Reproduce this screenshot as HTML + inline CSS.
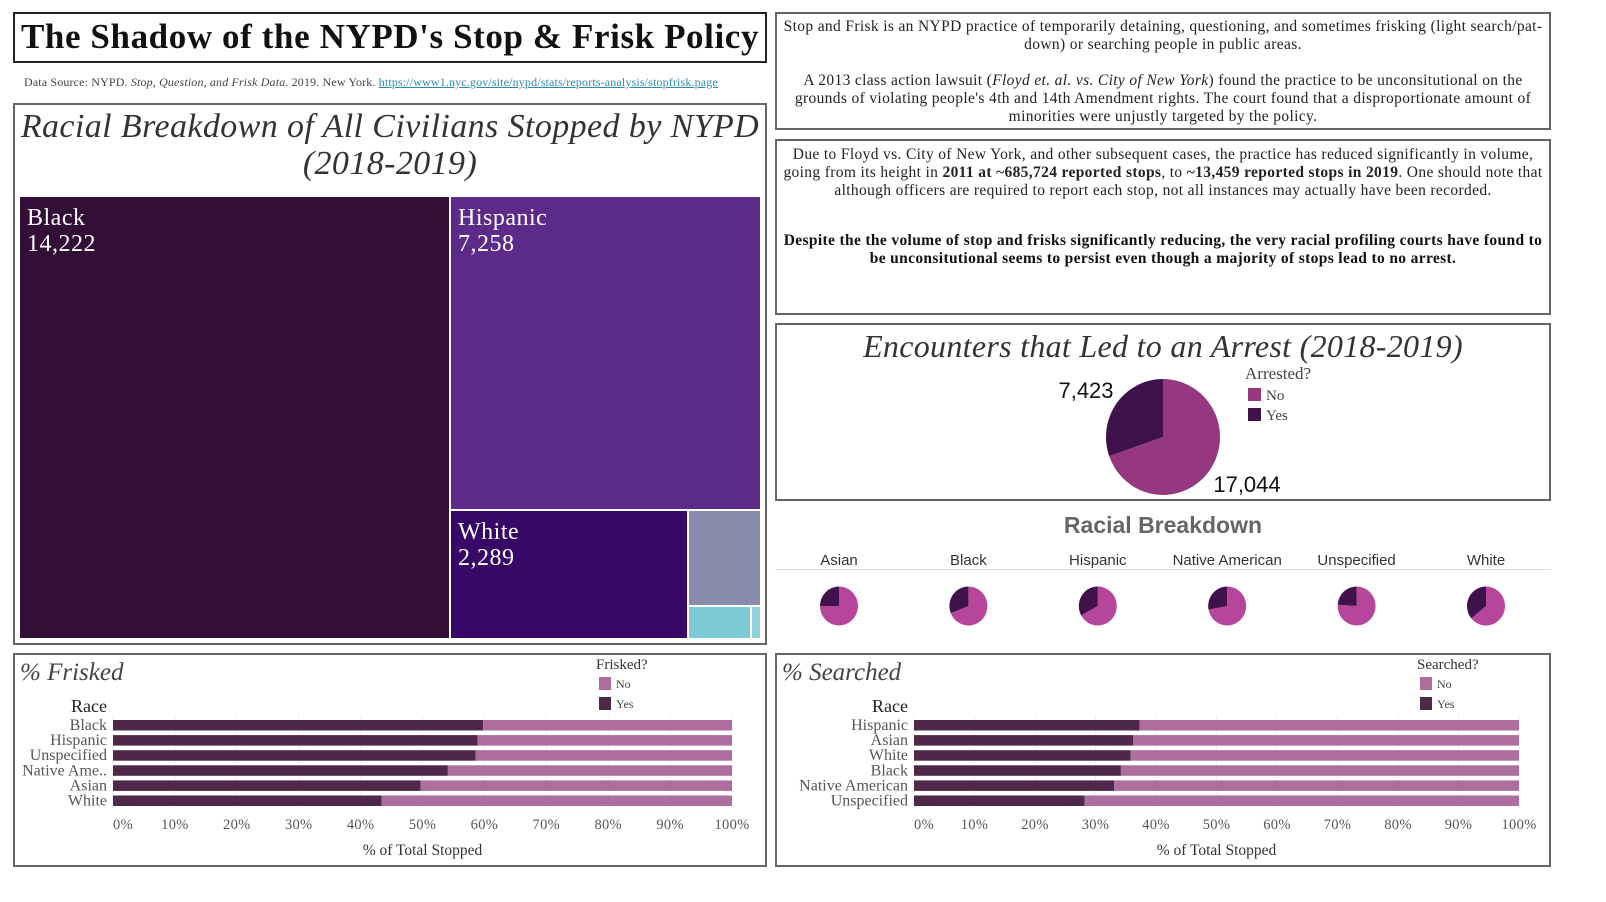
<!DOCTYPE html>
<html><head><meta charset="utf-8"><style>
body{margin:0;width:1606px;height:902px;background:#fff;position:relative;overflow:hidden;font-family:"Liberation Serif",serif;color:#333}
.box{position:absolute;border:2px solid #666;box-sizing:border-box}
.abs{position:absolute}
p{margin:0}
</style></head><body>
<div class="box" style="left:13px;top:12px;width:754px;height:51px;border-color:#222">
<div class="abs" style="left:0;width:750px;top:3px;text-align:center;font-size:35px;letter-spacing:0.6px;font-weight:bold;color:#111">The Shadow of the NYPD's Stop &amp; Frisk Policy</div></div>
<div class="abs" style="left:24px;top:75px;font-size:12px;letter-spacing:0.15px;color:#444">Data Source: NYPD. <i>Stop, Question, and Frisk Data</i>. 2019. New York. <span style="color:#2a8ab5;text-decoration:underline">https://www1.nyc.gov/site/nypd/stats/reports-analysis/stopfrisk.page</span></div>

<div class="box" style="left:775px;top:12px;width:776px;height:118px">
<div class="abs" style="left:6px;right:6px;top:4px;text-align:center;font-size:15.5px;letter-spacing:0.35px;line-height:18px;color:#222">
<p>Stop and Frisk is an NYPD practice of temporarily detaining, questioning, and sometimes frisking (light search/pat-down) or searching people in public areas.</p><p style="margin-top:18px">A 2013 class action lawsuit (<i>Floyd et. al. vs. City of New York</i>) found the practice to be unconsitutional on the grounds of violating people's 4th and 14th Amendment rights. The court found that a disproportionate amount of minorities were unjustly targeted by the policy.</p></div></div>

<div class="box" style="left:775px;top:139px;width:776px;height:176px">
<div class="abs" style="left:3px;right:3px;top:5px;text-align:center;font-size:15.5px;letter-spacing:0.35px;line-height:18px;color:#222">
<p>Due to Floyd vs. City of New York, and other subsequent cases, the practice has reduced significantly in volume, going from its height in <b>2011 at ~685,724 reported stops</b>, to <b>~13,459 reported stops in 2019</b>. One should note that although officers are required to report each stop, not all instances may actually have been recorded.</p>
<p style="margin-top:32px;font-weight:bold;color:#111">Despite the the volume of stop and frisks significantly reducing, the very racial profiling courts have found to be unconsitutional seems to persist even though a majority of stops lead to no arrest.</p></div></div>

<div class="box" style="left:13px;top:103px;width:754px;height:542px">
<div class="abs" style="left:0;width:750px;top:3px;text-align:center;font-size:34px;letter-spacing:0.4px;line-height:37px;font-style:italic;color:#333">Racial Breakdown of All Civilians Stopped by NYPD<br>(2018-2019)</div></div>
<svg class="abs" style="left:0;top:0" width="1606" height="902">
<rect x="20" y="197" width="429" height="441" fill="#330f38"/>
<rect x="451" y="197" width="309" height="312" fill="#5c2a88"/>
<rect x="451" y="511" width="236" height="127" fill="#370868"/>
<rect x="689" y="511" width="71" height="94" fill="#8a8cad"/>
<rect x="689" y="607" width="61" height="31" fill="#7ccad5"/>
<rect x="752" y="607" width="8" height="31" fill="#8fd2dc"/>
<g font-family="Liberation Serif,serif" font-size="24" fill="#fff" letter-spacing="0.5">
<text x="27" y="225">Black</text><text x="27" y="251">14,222</text>
<text x="458" y="225">Hispanic</text><text x="458" y="251">7,258</text>
<text x="458" y="539">White</text><text x="458" y="565">2,289</text></g>
</svg>

<div class="box" style="left:775px;top:323px;width:776px;height:178px">
<div class="abs" style="left:0;width:772px;top:3px;text-align:center;font-size:32px;letter-spacing:0.3px;font-style:italic;color:#333">Encounters that Led to an Arrest (2018-2019)</div></div>
<svg class="abs" style="left:0;top:0" width="1606" height="902" id="pies"></svg>

<div class="abs" style="left:775px;width:776px;top:512px;text-align:center;font-family:'Liberation Sans',sans-serif;font-weight:bold;font-size:23px;color:#666">Racial Breakdown</div>
<div class="abs" style="left:775px;width:776px;top:569px;height:1px;background:#ddd"></div>

<div class="box" style="left:13px;top:653px;width:754px;height:214px">
<div class="abs" style="left:5px;top:4px;font-size:25px;font-style:italic;color:#444">% Frisked</div></div>
<div class="box" style="left:775px;top:653px;width:776px;height:214px">
<div class="abs" style="left:5px;top:4px;font-size:25px;font-style:italic;color:#444">% Searched</div></div>
<svg class="abs" style="left:0;top:0" width="1606" height="902" id="bars"></svg>

<script>
const arrestLabels=["No","Yes"];
const arrestValues=[17044,7423];
const raceLabels=["Asian","Black","Hispanic","Native American","Unspecified","White"];
const raceYesShare=[0.25,0.31,0.33,0.28,0.24,0.36];
const friskCats=["Black","Hispanic","Unspecified","Native Ame..","Asian","White"];
const friskYes=[59.8,58.9,58.6,54.1,49.7,43.4];
const searchCats=["Hispanic","Asian","White","Black","Native American","Unspecified"];
const searchYes=[37.3,36.2,35.8,34.2,33.1,28.2];
const ticks=[0,10,20,30,40,50,60,70,80,90,100];

const NS="http://www.w3.org/2000/svg";
function mk(p,t,a){const e=document.createElementNS(NS,t);for(const k in a)e.setAttribute(k,a[k]);p.appendChild(e);return e;}
function wedge(cx,cy,rx,ry,a0,a1){const x0=cx+rx*Math.sin(a0),y0=cy-ry*Math.cos(a0),x1=cx+rx*Math.sin(a1),y1=cy-ry*Math.cos(a1);const lg=(a1-a0)>Math.PI?1:0;return `M${cx},${cy}L${x0},${y0}A${rx},${ry} 0 ${lg} 1 ${x1},${y1}Z`;}
const pies=document.getElementById('pies');
const tot=arrestValues[0]+arrestValues[1];
const yesA=2*Math.PI*arrestValues[1]/tot;
let p=mk(pies,'path',{d:wedge(1163,437,57,58,0,2*Math.PI-yesA-0.0001),fill:'#953880'});


p=mk(pies,'path',{d:wedge(1163,437,57,58,2*Math.PI-yesA,2*Math.PI),fill:'#40124b'});


let t=mk(pies,'text',{x:1086,y:398,'font-family':'Liberation Sans,sans-serif','font-size':22,fill:'#111','text-anchor':'middle'});t.textContent=arrestValues[1].toLocaleString('en-US');


t=mk(pies,'text',{x:1247,y:492,'font-family':'Liberation Sans,sans-serif','font-size':22,fill:'#111','text-anchor':'middle'});t.textContent=arrestValues[0].toLocaleString('en-US');


t=mk(pies,'text',{x:1245,y:379,'font-family':'Liberation Serif,serif','font-size':17,fill:'#444'});t.textContent='Arrested?';


const legC=['#953880','#40124b'];
arrestLabels.forEach((l,i)=>{const r=mk(pies,'rect',{x:1248,y:388+i*20,width:13,height:13,fill:legC[i]});


const tt=mk(pies,'text',{x:1266,y:400+i*20,'font-family':'Liberation Serif,serif','font-size':15,fill:'#444'});tt.textContent=l;

});
raceLabels.forEach((l,i)=>{const cx=839+i*129.4;
const tt=mk(pies,'text',{x:cx,y:565,'font-family':'Liberation Sans,sans-serif','font-size':15,fill:'#333','text-anchor':'middle'});tt.textContent=l;


const a=2*Math.PI*raceYesShare[i];
let q=mk(pies,'path',{d:wedge(cx,606,19,19.5,0,2*Math.PI-a),fill:'#b5469c'});


q=mk(pies,'path',{d:wedge(cx,606,19,19.5,2*Math.PI-a,2*Math.PI),fill:'#40124b'});

});

const bars=document.getElementById('bars');
function barChart(cats,vals,x0,x1,legX,legTitle,prefix){
 const sx=v=>x0+(x1-x0)*v/100;
 ticks.forEach(tk=>{const g=mk(bars,'line',{x1:sx(tk),x2:sx(tk),y1:716,y2:808,stroke:'#f0f0f0'});
 
 
 const tt=mk(bars,'text',{x:sx(tk)+(tk===0?10:0),y:829,'text-anchor':'middle','font-family':'Liberation Serif,serif','font-size':14.5,fill:'#555','letter-spacing':0.3});tt.textContent=tk+'%';
 
 });
 cats.forEach((c,i)=>{const y=720+i*15.1;
 let r=mk(bars,'rect',{x:sx(0),y:y,width:sx(vals[i])-sx(0),height:10.5,fill:'#4f2748'});
 
 
 r=mk(bars,'rect',{x:sx(vals[i]),y:y,width:sx(100)-sx(vals[i]),height:10.5,fill:'#ad6e9e'});
 
 
 const tt=mk(bars,'text',{x:x0-6,y:y+10,'text-anchor':'end','font-family':'Liberation Serif,serif','font-size':16,fill:'#555'});tt.textContent=c;
 
 });
 let tt=mk(bars,'text',{x:x0-6,y:712,'text-anchor':'end','font-family':'Liberation Serif,serif','font-size':18,fill:'#222'});tt.textContent='Race';
 
 
 tt=mk(bars,'text',{x:(x0+x1)/2,y:855,'text-anchor':'middle','font-family':'Liberation Serif,serif','font-size':15.5,fill:'#333'});tt.textContent='% of Total Stopped';
 
 
 tt=mk(bars,'text',{x:legX-3,y:669,'font-family':'Liberation Serif,serif','font-size':15,fill:'#333'});tt.textContent=legTitle;
 
 
 [['No','#ad6e9e'],['Yes','#4f2748']].forEach((d,i)=>{const r=mk(bars,'rect',{x:legX,y:677+i*20,width:12,height:13,fill:d[1]});
 
 
 const t2=mk(bars,'text',{x:legX+17,y:688+i*20,'font-family':'Liberation Serif,serif','font-size':12,fill:'#444'});t2.textContent=d[0];
 
 });
}
barChart(friskCats,friskYes,113,732,599,'Frisked?','frisked');
barChart(searchCats,searchYes,914,1519,1420,'Searched?','searched');
</script>
</body></html>
